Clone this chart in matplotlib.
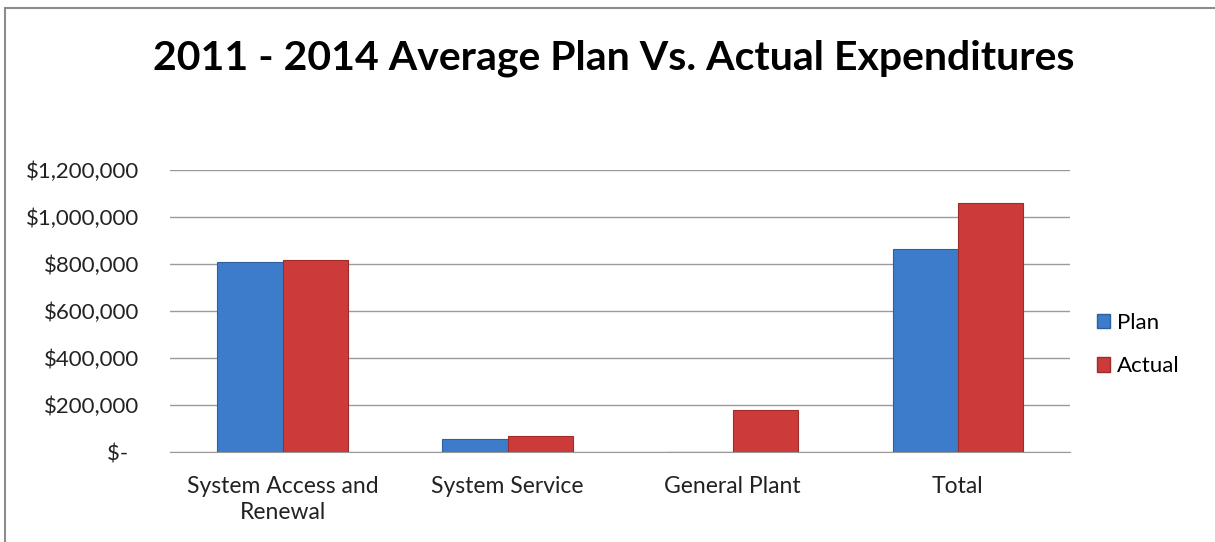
import numpy as np
import matplotlib
matplotlib.use("Agg")
import matplotlib.pyplot as plt
from matplotlib.patches import Rectangle, Patch
from matplotlib.ticker import FuncFormatter

categories = ["System Access and\nRenewal", "System Service", "General Plant", "Total"]
plan = [808000, 55000, 0, 865000]
actual = [816000, 67000, 180000, 1062000]
yticks = [0, 200000, 400000, 600000, 800000, 1000000, 1200000]

blue = "#3D7CCB"
red = "#CC3B3A"

plt.rcParams["font.family"] = ["Lato", "DejaVu Sans"]

fig = plt.figure(figsize=(12.15, 5.42), dpi=100)
ax = fig.add_axes([0.14, 0.166, 0.741, 0.520])

x = np.arange(len(categories))
w = 0.29
ax.bar(x - w / 2, plan, w, color=blue, edgecolor="#2F5F9E", linewidth=0.8, zorder=3)
ax.bar(x + w / 2, actual, w, color=red, edgecolor="#9E2C2B", linewidth=0.8, zorder=3)

ax.set_xlim(-0.5, len(categories) - 0.5)
ax.set_ylim(0, 1200000)
ax.set_yticks(yticks)


def money(v, pos):
    if v == 0:
        return "$-  "
    return "${:,.0f}".format(v)


ax.yaxis.set_major_formatter(FuncFormatter(money))
ax.grid(axis="y", color="#9A9A9A", linewidth=1, zorder=0)
ax.set_xticks(x)
ax.set_xticklabels(categories, fontsize=16.5, color="#222222", linespacing=1.3)
ax.tick_params(axis="y", length=0, pad=22, labelsize=16, labelcolor="#222222")
ax.tick_params(axis="x", length=0, pad=17)
for s in ["top", "right", "left"]:
    ax.spines[s].set_visible(False)
ax.spines["bottom"].set_color("#9A9A9A")

fig.text(0.505, 0.892, "2011 - 2014 Average Plan Vs. Actual Expenditures",
         ha="center", va="center", fontsize=29.5, fontweight="bold", color="black")

handles = [Patch(facecolor=blue, edgecolor="#2F5F9E"), Patch(facecolor=red, edgecolor="#9E2C2B")]
fig.legend(handles, ["Plan", "Actual"], loc="center left", bbox_to_anchor=(0.903, 0.364),
           frameon=False, fontsize=16, handlelength=0.6, handleheight=0.6,
           handletextpad=0.3, labelspacing=1.05, borderpad=0, borderaxespad=0)

# chart border (top and left visible)
fig.add_artist(Rectangle((0.004, -0.02), 1.2, 1.005, transform=fig.transFigure,
                         fill=False, edgecolor="#8C8C8C", linewidth=1.5))

fig.savefig("out.png", dpi=100)
